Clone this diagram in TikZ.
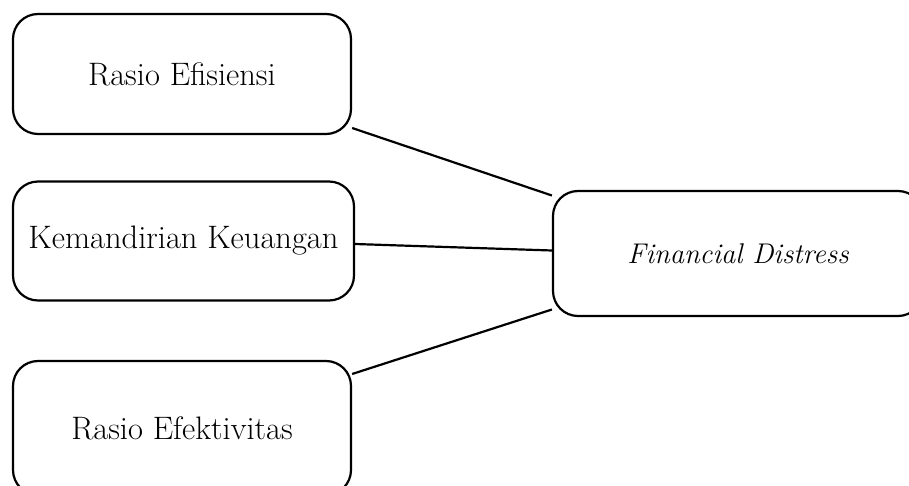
\documentclass[tikz,border=0pt]{standalone}
\usetikzlibrary{positioning}
\begin{document}
\begin{tikzpicture}[x=1pt, y=-1pt, line width=2.2pt,
          every node/.style={font=\fontsize{32.5}{40}\selectfont},
          var/.style={draw, rounded corners=25pt, inner sep=0pt, minimum width=338pt, minimum height=120pt}]
        \path[use as bounding box, clip] (0,0) rectangle (909,486);
        \node[var] (efisiensi) at (182,74) {Rasio Efisiensi};
        \node[var, minimum width=341pt, minimum height=119pt] (kemandirian) at (183.5,241) {Kemandirian Keuangan};
        \node[var, minimum height=134pt] (efektivitas) at (182,428) {Rasio Efektivitas};
        \node[var, minimum width=370pt, minimum height=125pt, font=\fontsize{28.5}{34}\selectfont\itshape] (distress) at (738,253.5) {Financial Distress};
        \draw ([yshift=-54pt]efisiensi.east) -- ([yshift=58pt]distress.west);
        \draw ([yshift=-3pt]kemandirian.east) -- ([yshift=3pt]distress.west);
        \draw ([yshift=54pt]efektivitas.east) -- ([yshift=-56pt]distress.west);
      \end{tikzpicture}
\end{document}
